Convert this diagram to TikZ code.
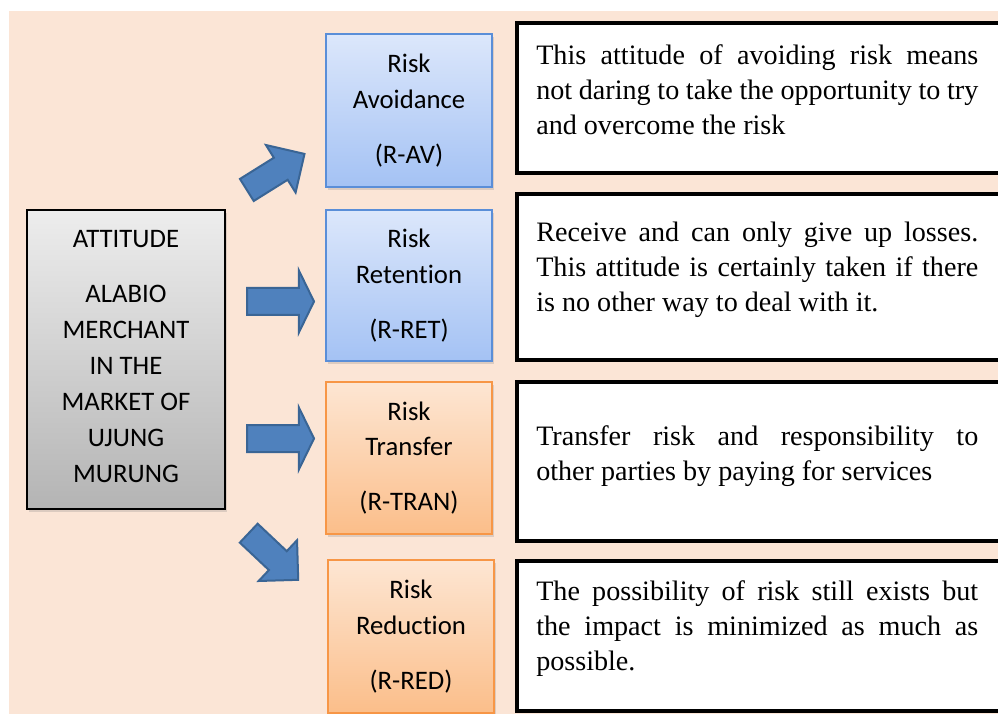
\documentclass[tikz,border=0pt]{standalone}
\usepackage{fontspec}
\setmainfont{Liberation Serif}
\newfontfamily\boxfont[Ligatures=NoCommon]{Carlito}
\usetikzlibrary{shapes.arrows,shadows}
\newlength\pxu
\setlength\pxu{0.025cm}
\definecolor{peach}{HTML}{FBE5D6}
\definecolor{arrowblue}{HTML}{4F81BD}
\definecolor{arrowedge}{HTML}{3A6595}
\definecolor{bluetop}{HTML}{DCE7FB}
\definecolor{bluebot}{HTML}{A4C2F4}
\definecolor{blueedge}{HTML}{5A8ED8}
\definecolor{orangetop}{HTML}{FDE6D3}
\definecolor{orangebot}{HTML}{FBBE8A}
\definecolor{orangeedge}{HTML}{F79646}
\definecolor{graytop}{HTML}{EDEDED}
\definecolor{graybot}{HTML}{B4B4B4}
\tikzset{
  catbox/.style={rectangle, line width=1.4pt, minimum width=166\pxu, minimum height=152\pxu,
    inner sep=0pt, align=center, font=\boxfont\fontsize{19}{25.2}\selectfont,
    drop shadow={shadow xshift=1.5pt, shadow yshift=-2pt, opacity=0.25}},
  bluebox/.style={catbox, draw=blueedge, top color=bluetop, bottom color=bluebot},
  orangebox/.style={catbox, draw=orangeedge, top color=orangetop, bottom color=orangebot},
  attbox/.style={catbox, draw=black, top color=graytop, bottom color=graybot,
    minimum width=198\pxu, minimum height=299\pxu, font=\boxfont\fontsize{19}{25.6}\selectfont},
  descbox/.style={rectangle, draw=black, fill=white, line width=4\pxu, inner sep=0pt,
    minimum width=483\pxu},
  desctext/.style={anchor=north west, inner sep=0pt, text width=442\pxu, align=justify,
    font=\fontsize{20}{24.9}\selectfont},
  flatarrow/.style={single arrow, draw=arrowedge, fill=arrowblue, line width=2\pxu,
    inner xsep=0pt, inner ysep=12.5\pxu, minimum height=67\pxu,
    single arrow head extend=17.5\pxu, single arrow tip angle=128, anchor=tail},
  slantarrow/.style={flatarrow, inner ysep=12\pxu, minimum height=68\pxu,
    single arrow head extend=15\pxu, single arrow tip angle=90}
}
\begin{document}
\begin{tikzpicture}[x=1\pxu, y=-1\pxu]
\useasboundingbox (0,0) rectangle (998,714);
\fill[peach] (9,11) rectangle (998,714);
% attitude and the four kinds of risk handling
\node[attbox] (att) at (126,359.5) {ATTITUDE\\[13.5pt]ALABIO\\MERCHANT\\IN THE\\MARKET OF\\UJUNG\\MURUNG\\[-21.5pt]};
\node[bluebox, minimum height=153\pxu] (rav) at (409,110.5) {Risk\\Avoidance\\[14pt](R-AV)};
\node[bluebox, minimum height=151\pxu] (ret) at (409,285.5) {Risk\\Retention\\[14pt](R-RET)};
\node[orangebox] (rtran) at (409,458) {Risk\\Transfer\\[14pt](R-TRAN)};
\node[orangebox, minimum height=153\pxu] (rred) at (411,636.5) {Risk\\Reduction\\[14pt](R-RED)};
% block arrows
\node[slantarrow, rotate=32] (a1) at (246,190.5) {};
\node[flatarrow] (a2) at (246,301.5) {};
\node[flatarrow] (a3) at (246,438.5) {};
\node[slantarrow, rotate=-43.3] (a4) at (248,532.5) {};
% descriptions
\node[descbox, minimum height=150\pxu] (d1) at (758.5,98) {};
\node[descbox, minimum height=166\pxu] (d2) at (758.5,277) {};
\node[descbox, minimum height=159\pxu] (d3) at (758.5,461.5) {};
\node[descbox, minimum height=150\pxu] (d4) at (758.5,636) {};
\node[desctext] (t1) at ([xshift=21\pxu, yshift=-23.5\pxu]d1.north west)
  {This attitude of avoiding risk means\linebreak not daring to take the opportunity to try\linebreak and overcome the risk};
\node[desctext] (t2) at ([xshift=21\pxu, yshift=-29.5\pxu]d2.north west)
  {Receive and can only give up losses.\linebreak This attitude is certainly taken if there\linebreak is no other way to deal with it.};
\node[desctext] (t3) at ([xshift=21\pxu, yshift=-45.5\pxu]d3.north west)
  {Transfer risk and responsibility to\linebreak other parties by paying for services};
\node[desctext] (t4) at ([xshift=21\pxu, yshift=-21.6\pxu]d4.north west)
  {The possibility of risk still exists but\linebreak the impact is minimized as much as\linebreak possible.};
\end{tikzpicture}
\end{document}
